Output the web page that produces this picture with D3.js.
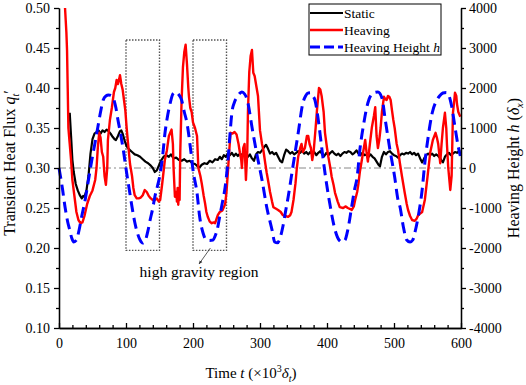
<!DOCTYPE html>
<html>
<head>
<meta charset="utf-8">
<script src="https://cdn.jsdelivr.net/npm/d3@7"></script>
<style>
  body { margin: 0; background: #fff; }
  svg { display: block; font-family: 'Liberation Serif', 'Times New Roman', serif; }
  .axis path, .axis line { stroke: #000; stroke-width: 1.3; }
  .axis text { font-family: 'Liberation Serif', 'Times New Roman', serif; font-size: 14px; fill: #000; }
  .title { font-size: 16px; fill: #000; }
  .legend text { font-size: 13.5px; fill: #000; }
</style>
</head>
<body>
<svg id="chart" width="526" height="385"></svg>
<script>
// DATA
const xTicks = [0, 100, 200, 300, 400, 500, 600];
const yTicks = [0.10, 0.15, 0.20, 0.25, 0.30, 0.35, 0.40, 0.45, 0.50];
const hTicks = [-4000, -3000, -2000, -1000, 0, 1000, 2000, 3000, 4000];

const seriesNames = ['Static', 'Heaving', 'Heaving Height '];

// [t, q']
const staticData = [
  [16,0.369],[18,0.34],[20,0.31],[22,0.295],[25,0.28],[28,0.272],[31,0.266],[34,0.262],[36,0.265],[38,0.264],
  [41,0.272],[44,0.29],[47,0.318],[50,0.336],[53,0.343],[56,0.345],[59,0.347],[62,0.343],[65,0.347],[68,0.345],
  [71,0.348],[74,0.346],[77,0.343],[80,0.339],[83,0.336],[85,0.335],[88,0.34],[91,0.346],[93,0.347],[95,0.343],
  [98,0.334],[101,0.327],[105,0.323],[109,0.32],[113,0.317],[117,0.316],[121,0.314],[125,0.311],[129,0.308],[133,0.306],
  [137,0.303],[140,0.3],[143,0.295],[146,0.297],[149,0.303],[152,0.309],[156,0.314],[160,0.316],[164,0.314],[167,0.317],
  [171,0.312],[175,0.313],[179,0.31],[183,0.309],[187,0.311],[191,0.308],[195,0.309],[199,0.306],[203,0.305],[207,0.302],
  [210,0.301],[213,0.304],[217,0.306],[221,0.305],[225,0.309],[229,0.307],[233,0.311],[237,0.31],[240,0.314],[243,0.311],
  [246,0.316],[249,0.314],[252,0.318],[255,0.316],[258,0.319],[261,0.315],[264,0.318],[267,0.315],[270,0.318],[273,0.316],
  [276,0.319],[279,0.316],[282,0.314],[285,0.317],[288,0.312],[291,0.309],[294,0.317],[297,0.32],[300,0.319],[303,0.322],
  [306,0.326],[309,0.329],[312,0.324],[315,0.318],[318,0.32],[321,0.317],[324,0.319],[327,0.314],[330,0.309],[333,0.307],
  [336,0.316],[339,0.323],[342,0.321],[345,0.318],[348,0.32],[351,0.317],[354,0.319],[357,0.321],[360,0.319],[363,0.322],
  [366,0.318],[369,0.32],[372,0.317],[375,0.32],[378,0.317],[381,0.32],[384,0.316],[387,0.319],[390,0.321],[393,0.317],
  [396,0.315],[399,0.319],[402,0.316],[405,0.319],[408,0.321],[411,0.318],[414,0.316],[417,0.318],[420,0.315],[423,0.318],
  [426,0.32],[429,0.319],[432,0.321],[435,0.32],[438,0.317],[441,0.319],[444,0.322],[447,0.318],[450,0.316],[453,0.319],
  [456,0.316],[459,0.317],[462,0.314],[465,0.317],[468,0.314],[471,0.312],[474,0.308],[477,0.304],[479,0.302],[482,0.314],
  [485,0.32],[488,0.317],[491,0.32],[494,0.321],[497,0.318],[500,0.316],[503,0.315],[506,0.313],[509,0.316],[512,0.318],
  [515,0.317],[518,0.319],[521,0.318],[524,0.32],[527,0.317],[530,0.319],[533,0.316],[536,0.318],[539,0.312],[542,0.307],
  [545,0.312],[548,0.316],[551,0.318],[554,0.316],[557,0.318],[560,0.315],[563,0.317],[566,0.315],[569,0.312],[571,0.309],
  [573,0.307],[576,0.314],[579,0.317],[582,0.319],[585,0.316],[588,0.318],[591,0.32],[594,0.319],[597,0.321],[599,0.321]
];

// [t, q']
const heavingData = [
  [9,0.50],[11,0.47],[12,0.447],[13,0.40],[14,0.35],[16,0.33],[18,0.31],[20,0.285],[23,0.265],[26,0.245],
  [29,0.235],[32,0.231],[35,0.232],[38,0.24],[42,0.255],[46,0.265],[50,0.272],[54,0.285],[56,0.30],[58,0.326],
  [60,0.344],[62,0.338],[64,0.32],[66,0.314],[68,0.29],[70,0.279],[72,0.30],[73,0.335],[76,0.36],[79,0.376],
  [82,0.395],[84,0.40],[86,0.41],[88,0.405],[90,0.412],[91,0.416],[93,0.405],[95,0.398],[97,0.385],[99,0.372],
  [101,0.35],[103,0.331],[106,0.305],[109,0.29],[111,0.275],[113,0.266],[116,0.262],[119,0.262],[122,0.263],[125,0.266],
  [128,0.2725],[131,0.27],[134,0.265],[137,0.262],[140,0.26],[143,0.26],[146,0.262],[149,0.258],[151,0.26],[154,0.28],
  [158,0.31],[161,0.322],[164,0.34],[166,0.344],[168,0.348],[170,0.33],[171,0.30],[173,0.264],[175,0.27],[176,0.258],
  [177,0.275],[178,0.254],[179,0.27],[180,0.26],[181,0.32],[183,0.385],[185,0.426],[187,0.445],[189,0.454],[191,0.43],
  [193,0.40],[194,0.389],[196,0.375],[198,0.37],[200,0.357],[203,0.35],[206,0.34],[208,0.30],[211,0.29],[213,0.281],
  [216,0.265],[218,0.256],[220,0.245],[222,0.239],[225,0.233],[228,0.231],[231,0.232],[233,0.231],[235,0.236],[237,0.241],
  [240,0.245],[244,0.247],[248,0.255],[250,0.27],[252,0.294],[254,0.32],[256,0.344],[259,0.343],[262,0.345],[265,0.342],
  [268,0.33],[270,0.319],[272,0.31],[273,0.30],[275,0.325],[277,0.33],[279,0.285],[281,0.32],[282,0.37],[284,0.42],
  [286,0.44],[288,0.4475],[290,0.419],[292,0.415],[295,0.40],[297,0.39],[300,0.347],[303,0.33],[305,0.3225],[308,0.305],
  [310,0.294],[313,0.28],[315,0.27],[318,0.258],[320,0.251],[324,0.249],[327,0.2475],[331,0.245],[334,0.241],[338,0.24],
  [342,0.239],[345,0.241],[347,0.245],[350,0.26],[353,0.281],[355,0.30],[357,0.314],[360,0.325],[362,0.33],[364,0.32],
  [367,0.325],[370,0.34],[372,0.34],[374,0.33],[376,0.325],[378,0.31],[380,0.32],[383,0.35],[385,0.372],[388,0.40],
  [390,0.398],[392,0.39],[395,0.37],[397,0.344],[400,0.325],[402,0.314],[405,0.30],[407,0.289],[410,0.278],[412,0.269],
  [416,0.258],[419,0.251],[424,0.25],[428,0.252],[431,0.25],[434,0.249],[437,0.2475],[440,0.252],[442,0.26],[445,0.27],
  [447,0.281],[449,0.295],[452,0.31],[455,0.325],[457,0.335],[459,0.32],[461,0.308],[464,0.33],[467,0.351],[470,0.365],
  [472,0.376],[474,0.34],[476,0.325],[478,0.335],[480,0.35],[482,0.37],[485,0.389],[487,0.386],[489,0.385],[491,0.39],
  [493,0.389],[495,0.385],[497,0.372],[499,0.36],[501,0.35],[504,0.33],[506,0.3225],[509,0.305],[512,0.289],[516,0.269],
  [519,0.255],[521,0.2475],[524,0.24],[527,0.235],[531,0.234],[534,0.237],[536,0.241],[539,0.243],[542,0.245],[546,0.26],
  [550,0.289],[554,0.319],[558,0.335],[562,0.344],[564,0.338],[566,0.33],[569,0.306],[571,0.33],[573,0.35],[576,0.369],
  [578,0.35],[579,0.33],[581,0.30],[584,0.2725],[586,0.29],[588,0.369],[590,0.385],[591,0.394],[593,0.39],[594,0.38],
  [596,0.37],[599,0.364]
];

// [t, h]
const heightData = [
  [0,0],[5,-500],[9,-975],[13,-1350],[16,-1550],[19,-1750],[22,-1850],[26,-1800],[30,-1550],[34,-1200],
  [39,-800],[44,-300],[49,200],[54,650],[58,1025],[62,1400],[66,1700],[70,1800],[74,1825],[78,1810],
  [82,1700],[85,1500],[88,1200],[92,850],[96,450],[101,-125],[105,-550],[109,-975],[113,-1350],[117,-1625],
  [121,-1800],[125,-1875],[129,-1800],[133,-1550],[136,-1300],[140,-1000],[143,-725],[147,-450],[151,-150],[155,350],
  [158,850],[161,1200],[166,1625],[170,1850],[174,1900],[178,1850],[183,1700],[187,1400],[191,1125],[196,525],
  [200,-50],[206,-625],[210,-1225],[215,-1625],[220,-1800],[225,-1810],[230,-1800],[233,-1700],[236,-1550],[240,-1200],
  [244,-850],[248,-475],[252,150],[255,800],[258,1375],[262,1650],[266,1775],[270,1870],[273,1900],[277,1850],
  [280,1750],[282,1625],[288,1025],[295,375],[303,-300],[310,-975],[318,-1550],[322,-1850],[326,-1870],[330,-1750],
  [334,-1475],[338,-1100],[342,-725],[349,25],[357,875],[364,1625],[368,1800],[372,1875],[376,1880],[379,1800],
  [382,1700],[387,1200],[392,525],[397,-125],[404,-875],[412,-1550],[418,-1800],[423,-1850],[427,-1800],[431,-1550],
  [437,-950],[441,-550],[445,-225],[449,450],[454,1025],[461,1625],[469,1875],[476,1900],[482,1750],[487,1200],
  [494,450],[501,-225],[506,-800],[509,-975],[514,-1475],[519,-1800],[524,-1850],[528,-1800],[531,-1625],[536,-1225],
  [542,-550],[546,125],[551,775],[557,1375],[564,1700],[568,1800],[573,1875],[578,1890],[581,1850],[586,1550],
  [591,1025],[596,525],[599,300]
];

// high gravity boxes [t0, t1, q0, q1]
const gravityBoxes = [[100, 150, 0.197, 0.46], [200, 250, 0.197, 0.46]];

// SETUP
const svg = d3.select('#chart'),
  margin = { top: 8, right: 65, bottom: 57, left: 59 },
  width = 526 - margin.left - margin.right,
  height = 385 - margin.top - margin.bottom;

const x = d3.scaleLinear().domain([0, 600]).range([0, width]);
const y = d3.scaleLinear().domain([0.10, 0.50]).range([height, 0]);
const yH = d3.scaleLinear().domain([-4000, 4000]).range([height, 0]);

const g = svg.append('g')
  .attr('transform', 'translate(' + margin.left + ',' + margin.top + ')');

// REFERENCE LINE AT 0.30 / 0
g.append('line')
  .attr('x1', 0).attr('x2', width)
  .attr('y1', y(0.30)).attr('y2', y(0.30))
  .attr('stroke', '#888').attr('stroke-width', 1)
  .attr('stroke-dasharray', '7,3,2,3');

// GRAVITY BOXES
g.selectAll('.gbox')
  .data(gravityBoxes)
  .enter()
  .append('rect')
  .attr('class', 'gbox')
  .attr('x', d => x(d[0]))
  .attr('y', d => y(d[3]))
  .attr('width', d => x(d[1]) - x(d[0]))
  .attr('height', d => y(d[2]) - y(d[3]))
  .attr('fill', 'none')
  .attr('stroke', '#555')
  .attr('stroke-width', 1.4)
  .attr('stroke-dasharray', '1.5,1.5');

// LINES
const line = d3.line().x(d => x(d[0])).y(d => y(d[1]));
const lineH = d3.line().x(d => x(d[0])).y(d => yH(d[1])).curve(d3.curveMonotoneX);

g.append('path').datum(staticData)
  .attr('d', line)
  .attr('fill', 'none').attr('stroke', '#000').attr('stroke-width', 2.2)
  .attr('stroke-linejoin', 'round');

g.append('path').datum(heavingData)
  .attr('d', line)
  .attr('fill', 'none').attr('stroke', '#ff0000').attr('stroke-width', 2.4)
  .attr('stroke-linejoin', 'round');

g.append('path').datum(heightData)
  .attr('d', lineH)
  .attr('fill', 'none').attr('stroke', '#0000ff').attr('stroke-width', 3)
  .attr('stroke-dasharray', '11,6');

// AXES
const minorX = d3.range(0, 601, 20).filter(v => v % 100 !== 0);
const minorY = d3.range(0.125, 0.5, 0.05);
const minorH = d3.range(-3500, 4000, 1000);

g.append('g').attr('class', 'axis')
  .attr('transform', 'translate(0,' + height + ')')
  .call(d3.axisBottom(x).tickValues(minorX).tickSize(-3).tickSizeOuter(0).tickFormat(''));
g.append('g').attr('class', 'axis')
  .attr('transform', 'translate(0,' + height + ')')
  .call(d3.axisBottom(x).tickValues(xTicks).tickSize(-5).tickSizeOuter(0).tickPadding(10));

g.append('g').attr('class', 'axis')
  .call(d3.axisLeft(y).tickValues(minorY).tickSize(3).tickSizeOuter(0).tickFormat(''));
g.append('g').attr('class', 'axis')
  .call(d3.axisLeft(y).tickValues(yTicks).tickSize(5).tickSizeOuter(0).tickPadding(4)
    .tickFormat(d3.format('.2f')));

g.append('g').attr('class', 'axis')
  .attr('transform', 'translate(' + width + ',0)')
  .call(d3.axisRight(yH).tickValues(minorH).tickSize(3).tickSizeOuter(0).tickFormat(''));
g.append('g').attr('class', 'axis')
  .attr('transform', 'translate(' + width + ',0)')
  .call(d3.axisRight(yH).tickValues(hTicks).tickSize(5).tickSizeOuter(0).tickPadding(3)
    .tickFormat(d => d));

// AXIS TITLES
const xt = svg.append('text').attr('class', 'title')
  .attr('x', margin.left + width / 2 - 9).attr('y', 378)
  .attr('text-anchor', 'middle')
  .style('font-size', '15px');
xt.append('tspan').text('Time ');
xt.append('tspan').attr('font-style', 'italic').text('t');
xt.append('tspan').text(' (\u00d710');
xt.append('tspan').attr('font-size', '10px').attr('dy', -6).text('3');
xt.append('tspan').attr('dy', 6).attr('font-style', 'italic').text('\u03b4');
xt.append('tspan').attr('font-size', '10px').attr('dy', 4).attr('font-style', 'italic').text('t');
xt.append('tspan').attr('dy', -4).text(')');

const yt = svg.append('text').attr('class', 'title')
  .attr('transform', 'translate(15,' + (margin.top + height / 2 - 5) + ') rotate(-90)')
  .attr('text-anchor', 'middle');
yt.append('tspan').text('Transient Heat Flux  ');
yt.append('tspan').attr('font-style', 'italic').text('q');
yt.append('tspan').attr('font-size', '10px').attr('dy', 4).attr('font-style', 'italic').text('t');
yt.append('tspan').attr('dy', -4).text('\u2032');

const rt = svg.append('text').attr('class', 'title')
  .attr('transform', 'translate(519,' + (margin.top + height / 2) + ') rotate(-90)')
  .attr('text-anchor', 'middle');
rt.append('tspan').text('Heaving Height ');
rt.append('tspan').attr('font-style', 'italic').text('h');
rt.append('tspan').text(' (');
rt.append('tspan').attr('font-style', 'italic').text('\u03b4');
rt.append('tspan').attr('font-size', '10px').attr('dy', 4).attr('font-style', 'italic').text('x');
rt.append('tspan').attr('dy', -4).text(')');

// ANNOTATION
svg.append('defs').append('marker')
  .attr('id', 'arrow').attr('viewBox', '0 0 10 10')
  .attr('refX', 9).attr('refY', 5)
  .attr('markerWidth', 5).attr('markerHeight', 5)
  .attr('orient', 'auto')
  .append('path').attr('d', 'M0,1L10,5L0,9Z').attr('fill', '#333');

g.append('line')
  .attr('x1', x(226)).attr('y1', y(0.2)).attr('x2', x(209)).attr('y2', y(0.18))
  .attr('stroke', '#333').attr('stroke-width', 0.8)
  .attr('marker-end', 'url(#arrow)');

g.append('text').attr('class', 'title')
  .attr('x', x(209)).attr('y', y(0.164))
  .attr('text-anchor', 'middle')
  .style('font-size', '15.5px')
  .text('high gravity region');

// LEGEND
const legend = svg.append('g').attr('class', 'legend').attr('transform', 'translate(309,4)');
legend.append('rect')
  .attr('width', 132).attr('height', 51)
  .attr('fill', '#fff').attr('stroke', '#000').attr('stroke-width', 1);

const legendStyle = [
  { color: '#000', width: 2.2, dash: null },
  { color: '#ff0000', width: 2.4, dash: null },
  { color: '#0000ff', width: 3, dash: '10,4' }
];

seriesNames.forEach((name, i) => {
  const row = legend.append('g').attr('transform', 'translate(0,' + (9 + i * 17) + ')');
  row.append('line')
    .attr('x1', 1).attr('x2', 34)
    .attr('stroke', legendStyle[i].color)
    .attr('stroke-width', legendStyle[i].width)
    .attr('stroke-dasharray', legendStyle[i].dash);
  const t = row.append('text').attr('x', 35).attr('y', 4.5).text(name);
  if (i === 2) t.append('tspan').attr('font-style', 'italic').text('h');
});
</script>
</body>
</html>
